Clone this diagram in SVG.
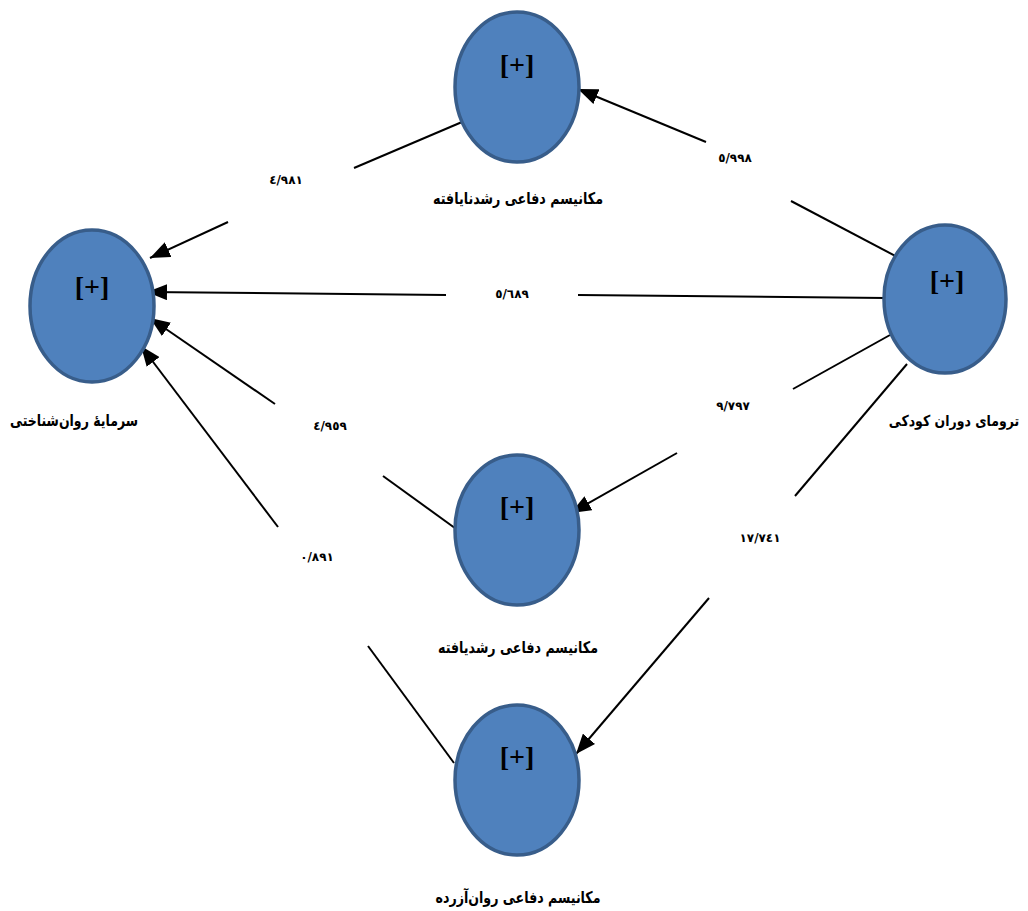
<svg xmlns="http://www.w3.org/2000/svg" width="1028" height="911" viewBox="0 0 1028 911">
<style>
.node{fill:#4F81BD;stroke:#385D8A;stroke-width:3.5}
.plus{font-family:"Liberation Serif",serif;font-size:28px;font-weight:bold;fill:#000;text-anchor:middle}
.lbl{font-family:"DejaVu Sans",sans-serif;font-size:16px;font-weight:bold;fill:#000;text-anchor:middle}
.num{font-family:"DejaVu Sans",sans-serif;font-size:12px;font-weight:bold;fill:#000;text-anchor:middle}
.ln{stroke:#000;stroke-width:2;fill:none}
</style>
<defs>
<marker id="ah" markerUnits="userSpaceOnUse" markerWidth="22" markerHeight="16" refX="20" refY="8" orient="auto">
<path d="M0,0 L20,8 L0,16 Z" fill="#000"/>
</marker>
</defs>
<rect width="1028" height="911" fill="#fff"/>
<g id="connectors">
<line class="ln" x1="462" y1="122" x2="354" y2="168"/>
<line class="ln" x1="228" y1="222" x2="150" y2="258" marker-end="url(#ah)"/>
<line class="ln" x1="903" y1="260" x2="791" y2="201"/>
<line class="ln" x1="706" y1="142" x2="578" y2="89" marker-end="url(#ah)"/>
<line class="ln" x1="886" y1="298" x2="578" y2="295"/>
<line class="ln" x1="446" y1="295" x2="147" y2="292" marker-end="url(#ah)"/>
<line class="ln" x1="459" y1="531" x2="383" y2="476"/>
<line class="ln" x1="275" y1="404" x2="150" y2="318" marker-end="url(#ah)"/>
<line class="ln" x1="890" y1="335" x2="793" y2="389"/>
<line class="ln" x1="677" y1="453" x2="571" y2="513" marker-end="url(#ah)"/>
<line class="ln" x1="454" y1="763" x2="368" y2="646"/>
<line class="ln" x1="278" y1="527" x2="141" y2="346" marker-end="url(#ah)"/>
<line class="ln" x1="907" y1="364" x2="795" y2="496"/>
<line class="ln" x1="709" y1="598" x2="576" y2="754" marker-end="url(#ah)"/>
<text class="num" x="286" y="184">٤/٩٨١</text>
<text class="num" x="735" y="162">٥/٩٩٨</text>
<text class="num" x="512" y="298">٥/٦٨٩</text>
<text class="num" x="330" y="430">٤/٩٥٩</text>
<text class="num" x="733" y="410">٩/٧٩٧</text>
<text class="num" x="317" y="561">٠/٨٩١</text>
<text class="num" x="760" y="542">١٧/٧٤١</text>
</g>
<g id="immature">
<ellipse class="node" cx="517" cy="87" rx="62" ry="75"/>
<text class="plus" x="517" y="74">[+]</text>
<text class="lbl" x="518" y="204" textLength="170" lengthAdjust="spacingAndGlyphs">مکانیسم دفاعی رشدنایافته</text>
</g>
<g id="psycap">
<ellipse class="node" cx="92" cy="306" rx="62" ry="76"/>
<text class="plus" x="92" y="296">[+]</text>
<text class="lbl" x="74" y="426" textLength="128" lengthAdjust="spacingAndGlyphs">سرمایهٔ روان‌شناختی</text>
</g>
<g id="trauma">
<ellipse class="node" cx="945" cy="299" rx="61" ry="74"/>
<text class="plus" x="947" y="290">[+]</text>
<text class="lbl" transform="translate(954,426) scale(1,1.2)" x="0" y="0" style="font-size:12.5px">ترومای دوران کودکی</text>
</g>
<g id="mature">
<ellipse class="node" cx="517" cy="530" rx="62" ry="75"/>
<text class="plus" x="517" y="516">[+]</text>
<text class="lbl" x="518" y="653" textLength="160" lengthAdjust="spacingAndGlyphs">مکانیسم دفاعی رشدیافته</text>
</g>
<g id="neurotic">
<ellipse class="node" cx="517" cy="780" rx="62" ry="75"/>
<text class="plus" x="517" y="766">[+]</text>
<text class="lbl" x="518" y="903" textLength="165" lengthAdjust="spacingAndGlyphs">مکانیسم دفاعی روان‌آزرده</text>
</g>
</svg>
